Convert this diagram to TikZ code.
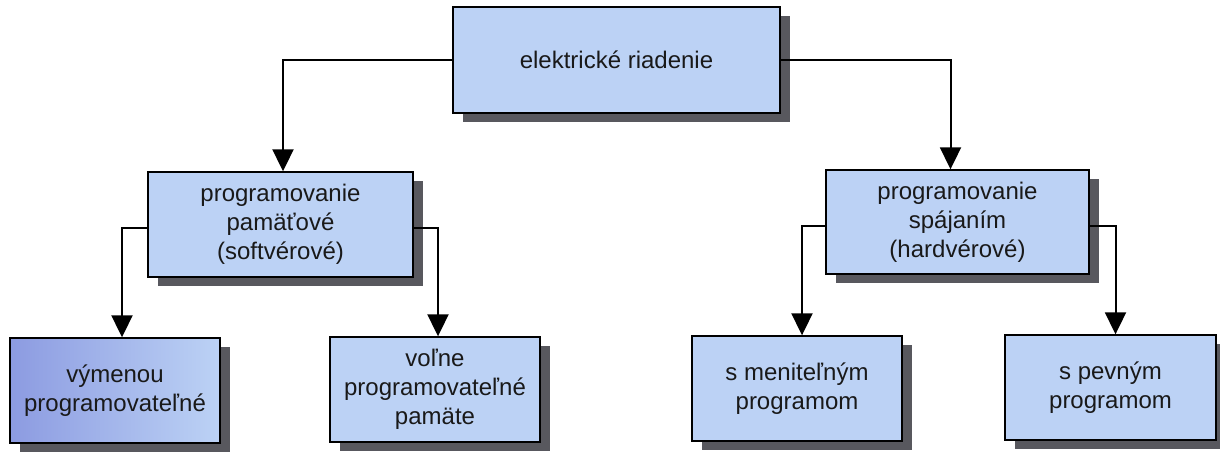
\documentclass[tikz,border=0pt]{standalone}
\usepackage{fontspec}
\setmainfont{Liberation Sans}
\usetikzlibrary{arrows.meta,shadows}
\definecolor{boxblue}{RGB}{188,210,245}
\definecolor{boxdark}{RGB}{140,155,225}
\definecolor{shadowgray}{RGB}{88,88,94}
\definecolor{txt}{RGB}{25,25,25}
\begin{document}
\begin{tikzpicture}[x=1pt,y=-1pt,
  box/.style={draw=black, line width=1.4pt, fill=boxblue, align=center,
    inner sep=0pt, text=txt,
    font=\fontsize{24pt}{29pt}\selectfont,
    drop shadow={shadow xshift=10pt, shadow yshift=-9pt, fill=shadowgray, opacity=1}},
  conn/.style={draw=black, line width=2pt,
    -{Triangle[width=21pt,length=22pt]}}
]
\useasboundingbox (0,0) rectangle (1220,451);
\node[box, minimum width=327pt, minimum height=106pt] (top) at (616.5,60) {elektrické riadenie};
\node[box, minimum width=265pt, minimum height=105pt] (lm) at (280.5,224.5) {programovanie\\pamäťové\\(softvérové)};
\node[box, minimum width=263pt, minimum height=104pt] (rm) at (957.5,222) {programovanie\\spájaním\\(hardvérové)};
\node[box, left color=boxdark, right color=boxblue, minimum width=210pt, minimum height=105pt] (bl) at (115,390.5) {výmenou\\programovateľné};
\node[box, minimum width=210pt, minimum height=105pt] (bm) at (435,389.5) {voľne\\programovateľné\\pamäte};
\node[box, minimum width=210pt, minimum height=105pt] (br1) at (797,388.5) {s meniteľným\\programom};
\node[box, minimum width=211pt, minimum height=105pt] (br2) at (1110.5,387.5) {s pevným\\programom};

\draw[conn] (top.west) -| ([xshift=2.5pt]lm.north);
\draw[conn] (top.east) -| ([xshift=-7pt]rm.north);
\draw[conn] ([yshift=-3.5pt]lm.west) -| ([xshift=7pt]bl.north);
\draw[conn] ([yshift=-3pt]lm.east) -| ([xshift=3pt]bm.north);
\draw[conn] ([yshift=-4pt]rm.west) -| ([xshift=5pt]br1.north);
\draw[conn] ([yshift=-4pt]rm.east) -| ([xshift=5pt]br2.north);
\end{tikzpicture}
\end{document}
